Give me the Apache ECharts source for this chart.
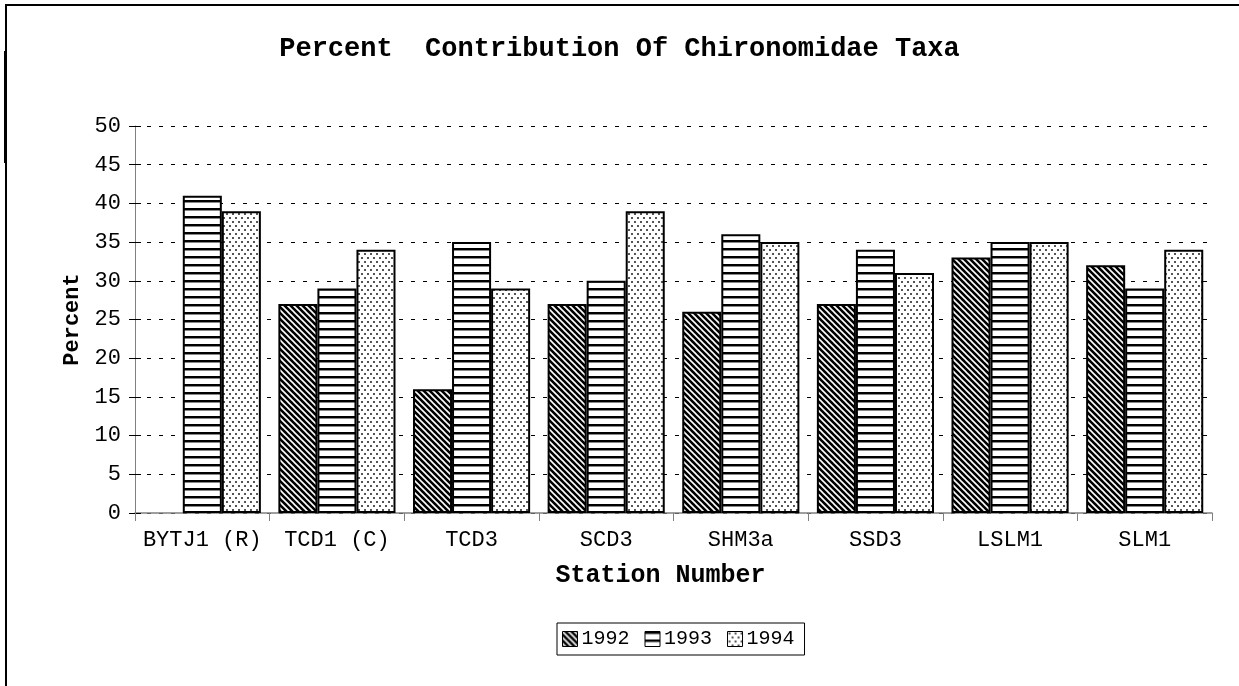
<!DOCTYPE html>
<html>
<head>
<meta charset="utf-8">
<script src="https://cdn.jsdelivr.net/npm/echarts@6/dist/echarts.min.js"></script>
<style>
  html, body { margin: 0; padding: 0; background: #fff; }
  #chart { width: 1239px; height: 686px; }
</style>
</head>
<body>
<div id="chart"></div>
<script>
// Station categories and yearly percent contribution values
const stations = ['BYTJ1 (R)', 'TCD1 (C)', 'TCD3', 'SCD3', 'SHM3a', 'SSD3', 'LSLM1', 'SLM1'];
const years = ['1992', '1993', '1994'];
const values1992 = ['-', 27, 16, 27, 26, 27, 33, 32];
const values1993 = [41, 29, 35, 30, 36, 34, 35, 29];
const values1994 = [39, 34, 29, 39, 35, 31, 35, 34];
const yTicks = { min: 0, max: 50, interval: 5 };

const FONT = "'Courier New', 'Liberation Mono', monospace";

// Fill patterns drawn on small tiles
function diagonalTile() {
  const s = 6, c = document.createElement('canvas');
  c.width = s; c.height = s;
  const g = c.getContext('2d');
  g.fillStyle = '#000'; g.fillRect(0, 0, s, s);
  g.strokeStyle = '#fff'; g.lineWidth = 1.6;
  for (let k = -s; k <= s; k += s) {
    g.beginPath(); g.moveTo(k - 1, -1); g.lineTo(k + s + 1, s + 1); g.stroke();
  }
  return c;
}
function horizontalTile() {
  const c = document.createElement('canvas');
  c.width = 4; c.height = 8;
  const g = c.getContext('2d');
  g.fillStyle = '#fff'; g.fillRect(0, 0, 4, 8);
  g.fillStyle = '#000'; g.fillRect(0, 0, 4, 2);
  g.fillStyle = '#888'; g.fillRect(0, 2, 4, 1);
  return c;
}
function dotTile() {
  const c = document.createElement('canvas');
  c.width = 6; c.height = 8;
  const g = c.getContext('2d');
  g.fillStyle = '#fff'; g.fillRect(0, 0, 6, 8);
  g.fillStyle = '#555';
  g.fillRect(1, 1, 2, 2);
  g.fillRect(4, 5, 2, 2);
  return c;
}
const patterns = [
  { image: diagonalTile(), repeat: 'repeat' },
  { image: horizontalTile(), repeat: 'repeat' },
  { image: dotTile(), repeat: 'repeat' }
];
const seriesValues = [values1992, values1993, values1994];

const chart = echarts.init(document.getElementById('chart'), null, { renderer: 'canvas' });
chart.setOption({
  animation: false,
  backgroundColor: '#fff',
  title: {
    text: 'Percent  Contribution Of Chironomidae Taxa',
    left: 'center',
    top: 31,
    padding: [5, 0, 5, 10],
    textStyle: { fontFamily: FONT, fontWeight: 'bold', fontSize: 27, color: '#000' }
  },
  legend: {
    data: years,
    left: 557,
    top: 623,
    orient: 'horizontal',
    itemWidth: 15,
    itemHeight: 15,
    itemGap: 15,
    padding: [6, 10, 6, 5],
    borderColor: '#000',
    borderWidth: 1,
    icon: 'rect',
    itemStyle: { borderColor: '#000', borderWidth: 1 },
    textStyle: { fontFamily: FONT, fontSize: 20, color: '#000', padding: [0, 0, 0, -1] }
  },
  grid: { left: 135, right: 27, top: 126, bottom: 173, containLabel: false },
  xAxis: {
    type: 'category',
    data: stations,
    name: 'Station Number',
    nameLocation: 'middle',
    nameGap: 50,
    nameTextStyle: { fontFamily: FONT, fontWeight: 'bold', fontSize: 25, color: '#000', padding: [0, 26, 0, 0] },
    axisLine: { lineStyle: { color: '#808080', width: 1.5 } },
    axisTick: { show: true, alignWithLabel: false, length: 8, lineStyle: { color: '#808080' } },
    axisLabel: { fontFamily: FONT, fontSize: 22, color: '#000', margin: 16, interval: 0 }
  },
  yAxis: [
    {
      type: 'value',
      min: yTicks.min, max: yTicks.max, interval: yTicks.interval,
      name: 'Percent',
      nameLocation: 'middle',
      nameGap: 52,
      nameRotate: 90,
      nameTextStyle: { fontFamily: FONT, fontWeight: 'bold', fontSize: 22, color: '#000' },
      axisLine: { show: true, lineStyle: { color: '#808080', width: 1 } },
      axisTick: { show: true, length: 6, lineStyle: { color: '#000' } },
      axisLabel: { fontFamily: FONT, fontSize: 22, color: '#000', margin: 14 },
      splitLine: { show: true, lineStyle: { color: '#000', width: 1, type: [4, 8] } }
    },
    {
      type: 'value',
      min: yTicks.min, max: yTicks.max, interval: yTicks.interval,
      position: 'left',
      axisLine: { show: false },
      axisTick: { show: true, inside: true, length: 6, lineStyle: { color: '#000' } },
      axisLabel: { show: false },
      splitLine: { show: false }
    }
  ],
  series: years.map((y, i) => ({
    name: y,
    type: 'bar',
    data: seriesValues[i],
    barGap: '0%',
    barCategoryGap: '13%',
    itemStyle: { color: patterns[i], borderColor: '#000', borderWidth: 2 }
  })),
  graphic: [
    { type: 'line', shape: { x1: 5, y1: 5, x2: 1239, y2: 5 }, style: { stroke: '#000', lineWidth: 2 } },
    { type: 'line', shape: { x1: 6, y1: 4, x2: 6, y2: 686 }, style: { stroke: '#000', lineWidth: 2 } },
    { type: 'line', shape: { x1: 5.5, y1: 51, x2: 5.5, y2: 163 }, style: { stroke: '#000', lineWidth: 3 } }
  ]
});
</script>
</body>
</html>
